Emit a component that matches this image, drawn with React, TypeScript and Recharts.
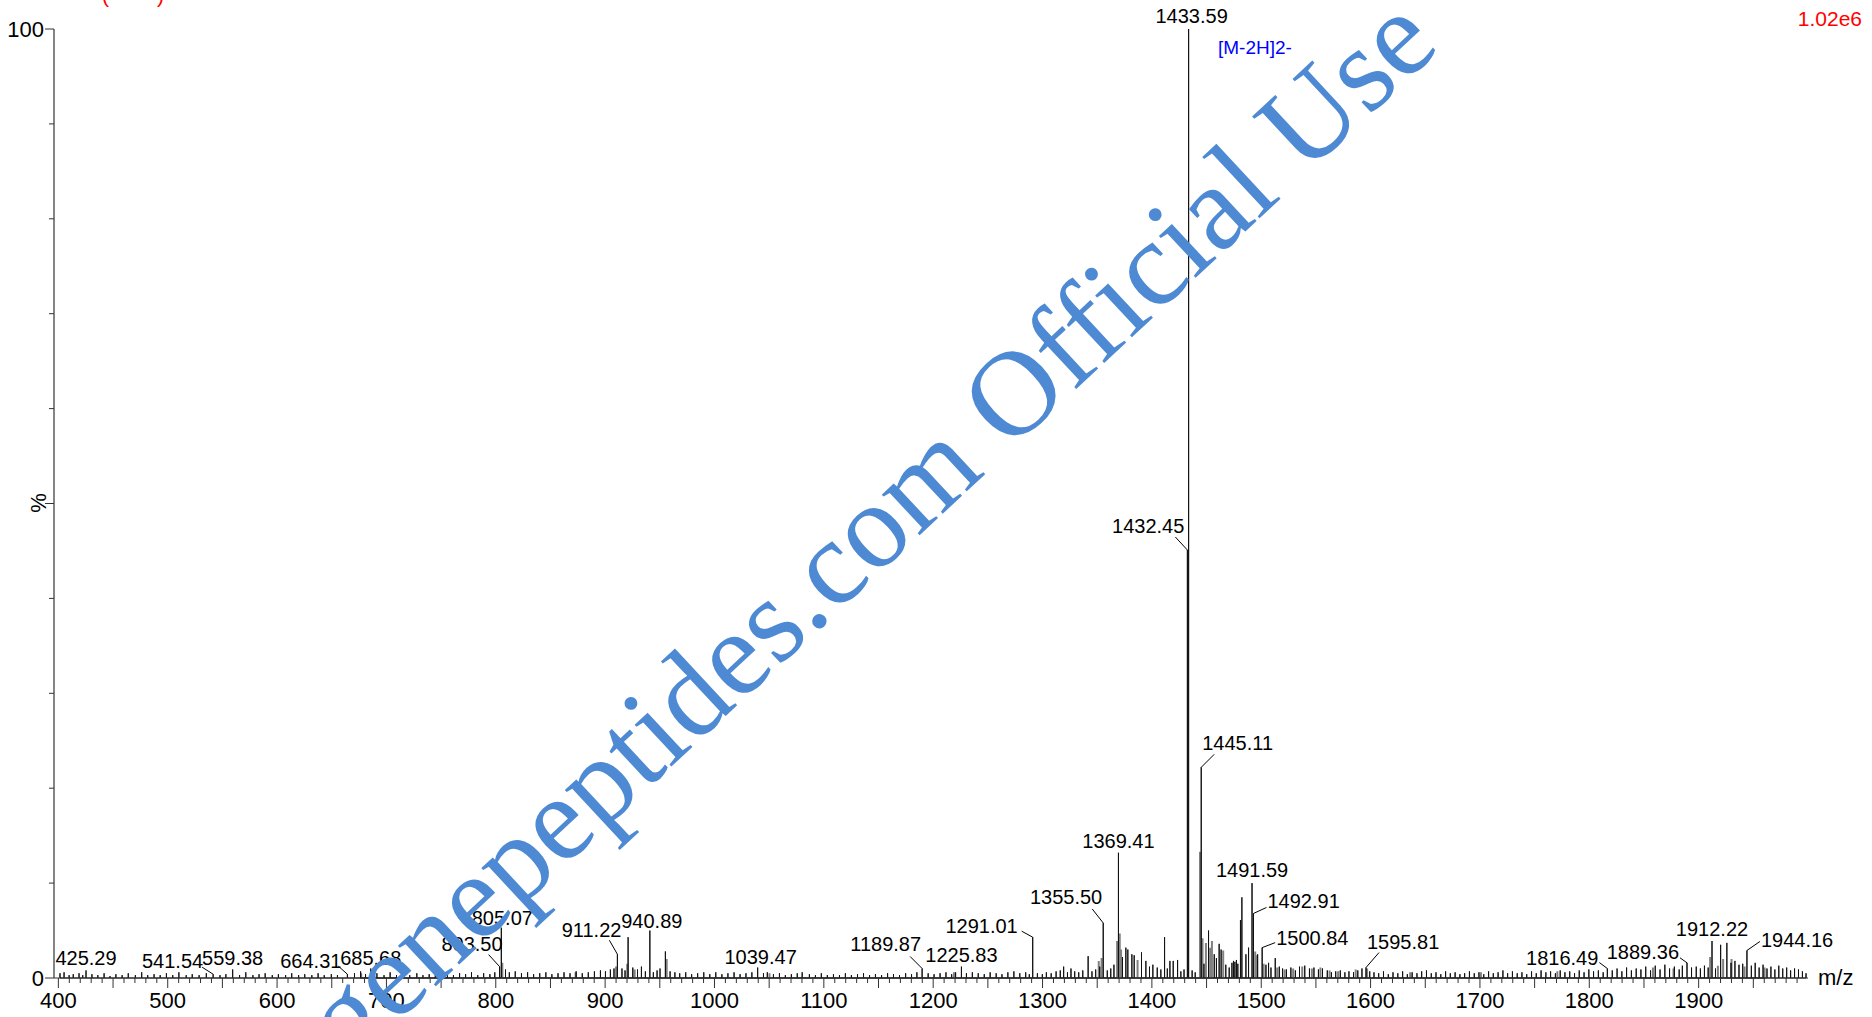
import React from 'react';
import { ComposedChart, Line, Scatter, XAxis, YAxis } from 'recharts';

const W = 1872;
const H = 1017;
const SANS = 'Liberation Sans, Arial, Helvetica, sans-serif';
const SERIF = 'Liberation Serif, Times New Roman, serif';

// m/z axis labels (major ticks every 100)
const xLabels = [400, 500, 600, 700, 800, 900, 1000, 1100, 1200, 1300, 1400, 1500, 1600, 1700, 1800, 1900];
const yTicks = [0, 10, 20, 30, 40, 50, 60, 70, 80, 90, 100];
const yLabels = [0, 100];

// labelled centroid peaks: [m/z, relative intensity %]
const labelledPeaks: [number, number][] = [
  [425.29, 0.8], [541.54, 0.4], [559.38, 0.9], [664.31, 0.4], [685.68, 1.0],
  [803.5, 1.2], [805.07, 5.3], [911.22, 2.5], [940.89, 5.0], [1039.47, 1.1],
  [1189.87, 1.0], [1225.83, 1.2], [1291.01, 4.3], [1355.5, 5.8], [1369.41, 13.2],
  [1432.45, 45.1], [1433.59, 100], [1445.11, 22.2], [1491.59, 10.0], [1492.91, 6.8],
  [1500.84, 3.2], [1595.81, 1.1], [1816.49, 1.0], [1889.36, 1.6], [1912.22, 3.9],
  [1944.16, 2.9],
];

// unlabelled centroid peaks (black sticks)
const centroidPeaks: [number, number][] = [
  [401.5, 0.5], [405.2, 0.6], [409.8, 0.3], [413.6, 0.4], [418.9, 0.5], [422.3, 0.3], [430.7, 0.4],
  [436.1, 0.3], [441.8, 0.5], [447.2, 0.2], [452.6, 0.4], [458.3, 0.3], [463.9, 0.5], [470.4, 0.3],
  [476.2, 0.6], [481.7, 0.3], [487.5, 0.4], [493.1, 0.3], [498.8, 0.5], [504.6, 0.3], [510.2, 0.6],
  [516.9, 0.3], [522.4, 0.4], [528.7, 0.3], [535.3, 0.5], [547.8, 0.3], [553.2, 0.4], [565.7, 0.3],
  [571.4, 0.6], [577.9, 0.3], [583.5, 0.4], [589.1, 0.5], [595.6, 0.3], [601.2, 0.4], [607.8, 0.3],
  [613.4, 0.5], [619.7, 0.3], [625.3, 0.4], [631.8, 0.3], [637.5, 0.5], [643.1, 0.3], [649.6, 0.4],
  [655.2, 0.3], [670.8, 0.5], [676.4, 0.7], [680.9, 0.4], [691.3, 0.5], [697.8, 0.3], [703.4, 0.6],
  [709.2, 0.3], [715.7, 0.4], [721.3, 0.3], [727.8, 0.5], [733.4, 0.3], [739.1, 0.4], [744.7, 0.3],
  [750.2, 0.5], [755.8, 0.4], [761.3, 0.3], [766.9, 0.5], [772.4, 0.4], [777.8, 0.6], [783.5, 0.3],
  [788.9, 0.5], [794.6, 0.4], [799.1, 0.6],
  [808.9, 0.9], [812.4, 0.6], [817.8, 0.7], [823.5, 0.5], [829.1, 0.6], [834.6, 0.4], [840.2, 0.5],
  [845.8, 0.6], [851.3, 0.4], [856.9, 0.5], [862.4, 0.6], [867.9, 0.5], [873.5, 0.7], [879.1, 0.5],
  [884.6, 0.6], [890.2, 0.7], [895.7, 0.8], [900.3, 0.7], [904.8, 0.9], [908.1, 1.0], [915.4, 1.0],
  [918.2, 0.8], [921.0, 4.3], [925.3, 1.1], [929.6, 0.9], [933.2, 1.2], [936.8, 0.7], [944.1, 0.6],
  [947.5, 0.8], [950.2, 1.0], [955.1, 2.8], [959.4, 0.7], [963.8, 0.6], [968.2, 0.5], [973.7, 0.6],
  [979.1, 0.4], [984.6, 0.5], [990.2, 0.6], [995.7, 0.4],
  [1001.2, 0.6], [1006.8, 0.4], [1012.3, 0.5], [1017.9, 0.6], [1023.4, 0.4], [1028.8, 0.5], [1034.2, 0.6],
  [1044.8, 0.5], [1048.3, 0.6], [1053.9, 0.4], [1059.4, 0.5], [1064.8, 0.3], [1070.3, 0.4], [1075.7, 0.5],
  [1080.2, 0.6], [1086.8, 0.4], [1092.3, 0.3], [1097.7, 0.5], [1103.2, 0.3], [1108.8, 0.4], [1114.3, 0.3],
  [1119.7, 0.5], [1125.2, 0.3], [1130.8, 0.4], [1136.3, 0.5], [1141.8, 0.3], [1147.2, 0.4], [1152.8, 0.3],
  [1158.3, 0.5], [1163.7, 0.4], [1169.2, 0.3], [1174.8, 0.5], [1180.2, 0.4], [1185.1, 0.6], [1195.4, 0.5],
  [1200.8, 0.4], [1206.3, 0.5], [1211.7, 0.6], [1216.9, 0.4], [1220.5, 0.6], [1230.4, 0.5], [1235.8, 0.6],
  [1241.2, 0.5], [1246.7, 0.4], [1252.1, 0.6], [1257.6, 0.5], [1262.9, 0.4], [1268.3, 0.6], [1273.8, 0.7],
  [1279.2, 0.5], [1284.6, 0.6], [1287.9, 0.4], [1295.3, 0.5], [1299.8, 0.4],
  [1303.5, 0.6], [1307.9, 0.5], [1312.4, 0.7], [1316.2, 0.8], [1319.3, 1.2], [1322.8, 0.6], [1326.0, 1.0],
  [1329.4, 0.7], [1333.1, 0.6], [1336.8, 0.8], [1341.7, 2.3], [1345.2, 0.7], [1348.6, 0.9], [1352.3, 1.2],
  [1359.2, 0.8], [1362.4, 1.0], [1365.3, 1.4], [1373.1, 2.2], [1376.2, 3.2], [1378.0, 3.0], [1381.7, 2.5],
  [1383.8, 2.4], [1390.5, 2.7], [1394.5, 1.8], [1397.8, 1.2], [1400.9, 1.4], [1404.9, 1.1], [1408.2, 0.9],
  [1411.6, 4.3], [1414.1, 1.0], [1416.5, 1.8], [1419.5, 1.8], [1423.5, 1.9], [1426.5, 0.7], [1429.4, 0.9],
  [1436.8, 0.8], [1439.6, 0.6], [1447.6, 1.5], [1451.8, 5.0], [1457.0, 2.5], [1459.0, 2.1], [1461.5, 3.6],
  [1463.3, 3.0], [1467.6, 1.4], [1470.7, 1.1], [1473.2, 1.6], [1474.6, 1.8], [1475.9, 1.7], [1477.3, 1.9],
  [1478.6, 1.5], [1481.0, 6.1], [1482.3, 8.5], [1486.0, 2.5], [1488.4, 3.2], [1496.7, 2.5], [1504.3, 1.4],
  [1506.7, 1.6], [1508.9, 1.1], [1512.8, 2.1], [1516.5, 1.2], [1519.5, 1.0], [1523.0, 0.9], [1527.1, 1.1],
  [1531.2, 0.8], [1535.0, 1.2], [1539.8, 1.3], [1544.1, 1.0], [1548.2, 1.1], [1552.3, 0.9], [1556.0, 1.0],
  [1560.4, 0.8], [1564.2, 0.6], [1568.1, 0.7], [1572.3, 0.8], [1576.5, 0.6], [1580.2, 0.7], [1584.4, 0.6],
  [1588.3, 0.8], [1592.1, 1.0], [1599.2, 0.7],
  [1603.1, 0.6], [1607.4, 0.5], [1611.8, 0.7], [1616.2, 0.4], [1620.5, 0.6], [1624.9, 0.5], [1629.3, 0.7],
  [1633.6, 0.4], [1638.0, 0.6], [1642.4, 0.5], [1646.7, 0.7], [1651.1, 0.8], [1655.5, 0.5], [1659.8, 0.6],
  [1664.2, 0.4], [1668.6, 0.7], [1672.9, 0.5], [1677.3, 0.6], [1681.7, 0.4], [1686.0, 0.5], [1690.4, 0.7],
  [1694.8, 0.5], [1699.1, 0.6], [1703.5, 0.4], [1707.9, 0.7], [1712.2, 0.5], [1716.6, 0.6], [1721.0, 0.8],
  [1725.3, 0.5], [1729.7, 0.7], [1734.1, 0.5], [1738.4, 0.6], [1742.8, 0.4], [1747.2, 0.7], [1751.5, 0.5],
  [1755.9, 0.8], [1760.3, 0.6], [1764.6, 0.7], [1769.0, 0.5], [1773.4, 0.8], [1777.7, 0.6], [1782.1, 0.7],
  [1786.5, 0.5], [1790.8, 0.8], [1795.2, 0.6], [1799.6, 0.9], [1803.9, 0.7], [1808.3, 0.8], [1812.7, 0.6],
  [1821.0, 0.8], [1825.4, 1.0], [1829.8, 0.7], [1834.1, 1.1], [1838.5, 0.8], [1842.9, 1.0], [1847.2, 0.9],
  [1851.6, 1.2], [1856.0, 0.8], [1860.3, 1.3], [1864.7, 0.9], [1869.1, 1.4], [1873.4, 1.0], [1877.8, 1.2],
  [1882.2, 0.9], [1885.1, 1.3], [1893.5, 1.1], [1897.8, 1.2], [1901.6, 1.0], [1905.3, 1.3], [1908.7, 1.1],
  [1915.4, 1.0], [1920.1, 3.5], [1925.8, 3.7], [1929.6, 1.6], [1933.2, 1.8], [1936.9, 1.4], [1940.3, 1.5],
  [1948.2, 1.3], [1951.7, 1.6], [1955.3, 1.1], [1958.9, 1.4], [1962.5, 1.0], [1966.1, 1.2], [1969.7, 0.9],
  [1973.3, 1.3], [1976.9, 1.0], [1980.5, 1.1], [1984.1, 0.8], [1987.7, 1.0], [1991.3, 0.9], [1994.9, 0.7],
  [1998.2, 0.5],
];

// profile-like shoulders (grey sticks)
const profilePeaks: [number, number][] = [
  [676.9, 0.5], [806.0, 1.6], [873.0, 0.6], [910.0, 1.2], [920.2, 1.5], [927.0, 0.9], [956.3, 2.0],
  [1050.3, 0.5], [1219.0, 0.6], [1351.4, 1.8], [1354.0, 2.1], [1368.2, 3.9], [1370.6, 4.7], [1371.8, 3.0],
  [1386.9, 1.9], [1444.0, 13.3], [1446.3, 4.2], [1449.4, 3.7], [1453.3, 3.2], [1454.9, 3.9], [1465.2, 2.9],
  [1494.5, 2.8], [1495.6, 2.4], [1502.2, 1.5], [1514.6, 1.1], [1521.3, 0.9], [1529.2, 1.0], [1537.5, 1.2],
  [1546.3, 1.0], [1554.1, 1.1], [1562.5, 0.8], [1570.3, 0.7], [1586.4, 0.9], [1596.8, 1.0], [1636.2, 0.6],
  [1700.9, 0.6], [1770.8, 0.7], [1858.2, 1.1], [1877.0, 1.0], [1910.5, 2.2], [1917.6, 1.3], [1922.4, 2.0],
  [1930.1, 2.0], [1942.0, 1.2], [1960.3, 1.1],
];

// label placement relative to the peak top (layout only)
type Place = { anchor: 'start' | 'middle' | 'end'; dx: number; dy: number; lead?: [number, number] };
const labelPlace: Record<string, Place> = {
  '425.29': { anchor: 'middle', dx: 0, dy: -5 },
  '541.54': { anchor: 'end', dx: -10, dy: -6, lead: [-11, -7] },
  '559.38': { anchor: 'middle', dx: 0, dy: -4 },
  '664.31': { anchor: 'end', dx: -6, dy: -6, lead: [-9, -8] },
  '685.68': { anchor: 'middle', dx: 0, dy: -4 },
  '803.50': { anchor: 'end', dx: 3, dy: -16, lead: [-11, -12] },
  '805.07': { anchor: 'middle', dx: 1, dy: -3 },
  '911.22': { anchor: 'end', dx: 4, dy: -17, lead: [-8, -14] },
  '940.89': { anchor: 'middle', dx: 2, dy: -3 },
  '1039.47': { anchor: 'middle', dx: 3, dy: -4 },
  '1189.87': { anchor: 'end', dx: -1, dy: -18, lead: [-12, -12] },
  '1225.83': { anchor: 'middle', dx: 0, dy: -5 },
  '1291.01': { anchor: 'end', dx: -15, dy: -4, lead: [-11, -6] },
  '1355.50': { anchor: 'end', dx: -1, dy: -19, lead: [-11, -14] },
  '1369.41': { anchor: 'middle', dx: 0, dy: -5 },
  '1432.45': { anchor: 'end', dx: -3, dy: -17, lead: [-12, -13] },
  '1433.59': { anchor: 'middle', dx: 3, dy: -6 },
  '1445.11': { anchor: 'start', dx: 1, dy: -17, lead: [13, -13] },
  '1491.59': { anchor: 'middle', dx: 0, dy: -6 },
  '1492.91': { anchor: 'start', dx: 14, dy: -5, lead: [13, -6] },
  '1500.84': { anchor: 'start', dx: 14, dy: -3, lead: [13, -5] },
  '1595.81': { anchor: 'start', dx: 1, dy: -19, lead: [13, -15] },
  '1816.49': { anchor: 'end', dx: -9, dy: -4, lead: [-8, -6] },
  '1889.36': { anchor: 'end', dx: -8, dy: -4, lead: [-7, -5] },
  '1912.22': { anchor: 'middle', dx: 0, dy: -5 },
  '1944.16': { anchor: 'start', dx: 14, dy: -3, lead: [13, -9] },
};

const xTicks: number[] = [];
for (let v = xLabels[0]; v < 2000; v += 10) xTicks.push(v);

function sticks(peaks: [number, number][]) {
  const out: { mz: number; v: number }[] = [];
  [...peaks].sort((a, b) => a[0] - b[0]).forEach(([mz, v]) => {
    out.push({ mz, v: 0 }, { mz, v }, { mz, v: 0 });
  });
  return out;
}

const blackData = sticks([...centroidPeaks, ...labelledPeaks]);
const greyData = sticks(profilePeaks);
const labelData = labelledPeaks.map(([mz, v]) => ({ mz, v, text: mz.toFixed(2) }));

function XTick(props: any) {
  const { x, y, payload } = props;
  const v = payload.value;
  const long = v % 50 === 0;
  return (
    <g>
      <line x1={x} x2={x} y1={y} y2={y + (long ? 10 : 5)} stroke="#333" strokeWidth={1} />
      {xLabels.includes(v) && (
        <text x={x} y={y + 30} textAnchor="middle" fontSize={22} fontFamily={SANS} fill="#000">
          {v}
        </text>
      )}
    </g>
  );
}

function YTick(props: any) {
  const { x, y, payload } = props;
  const v = payload.value;
  const len = v % 50 === 0 ? 9 : 5;
  return (
    <g>
      <line x1={x - len} x2={x} y1={y} y2={y} stroke="#333" strokeWidth={1} />
      {yLabels.includes(v) && (
        <text x={x - 10} y={y + 8} textAnchor="end" fontSize={22} fontFamily={SANS} fill="#000">
          {v}
        </text>
      )}
    </g>
  );
}

function PeakLabel(props: any) {
  const { cx, cy, payload } = props;
  const p = labelPlace[payload.text] || { anchor: 'middle', dx: 0, dy: -5 };
  return (
    <g>
      {p.lead && (
        <line x1={cx} y1={cy} x2={cx + p.lead[0]} y2={cy + p.lead[1]} stroke="#000" strokeWidth={1} />
      )}
      <text x={cx + p.dx} y={cy + p.dy} textAnchor={p.anchor} fontSize={20} fontFamily={SANS} fill="#000">
        {payload.text}
      </text>
    </g>
  );
}

export default function App() {
  return (
    <div style={{ position: 'absolute', left: 0, top: 0, width: W, height: H, background: '#fff', overflow: 'hidden' }}>
      <ComposedChart width={W} height={H} margin={{ top: 29, right: 64, bottom: 0, left: 0 }}>
        <XAxis
          type="number"
          dataKey="mz"
          domain={[396, 2000]}
          ticks={xTicks}
          interval={0}
          tick={(p: any) => <XTick {...p} />}
          tickLine={false}
          tickSize={0}
          tickMargin={0}
          height={39}
          axisLine={{ stroke: '#333', strokeWidth: 1.2 }}
        />
        <YAxis
          type="number"
          domain={[0, 100]}
          ticks={yTicks}
          interval={0}
          width={54}
          tick={(p: any) => <YTick {...p} />}
          tickLine={false}
          tickSize={0}
          tickMargin={0}
          axisLine={{ stroke: '#333', strokeWidth: 1.2 }}
        />
        <Line
          data={greyData}
          dataKey="v"
          type="linear"
          stroke="#808080"
          strokeWidth={2}
          dot={false}
          activeDot={false}
          isAnimationActive={false}
        />
        <Line
          data={blackData}
          dataKey="v"
          type="linear"
          stroke="#111"
          strokeWidth={1}
          dot={false}
          activeDot={false}
          isAnimationActive={false}
        />
        <Scatter
          data={labelData}
          dataKey="v"
          shape={(p: any) => <PeakLabel {...p} />}
          isAnimationActive={false}
        />
      </ComposedChart>
      <svg width={W} height={H} style={{ position: 'absolute', left: 0, top: 0, pointerEvents: 'none' }}>
        <text x={38} y={503} transform="rotate(-90 38 503)" textAnchor="middle" dominantBaseline="central" fontSize={22} fontFamily={SANS} fill="#000">
          %
        </text>
        <text x={1818} y={985} fontSize={22} fontFamily={SANS} fill="#000">m/z</text>
        <text x={1862} y={26} textAnchor="end" fontSize={21} fontFamily={SANS} fill="#ff0000">1.02e6</text>
        <text x={102} y={3} fontSize={21} fontFamily={SANS} fill="#ff0000">(</text>
        <text x={157} y={3} fontSize={21} fontFamily={SANS} fill="#ff0000">)</text>
        <text x={1218} y={54} fontSize={19} fontFamily={SANS} fill="#0000ff">[M-2H]2-</text>
        <text
          x={1442}
          y={48}
          transform="rotate(-43 1442 48)"
          textAnchor="end"
          fontSize={121}
          fontFamily={SERIF}
          fill="#4e8ad4"
        >
          genepeptides.com Official Use
        </text>
      </svg>
    </div>
  );
}
